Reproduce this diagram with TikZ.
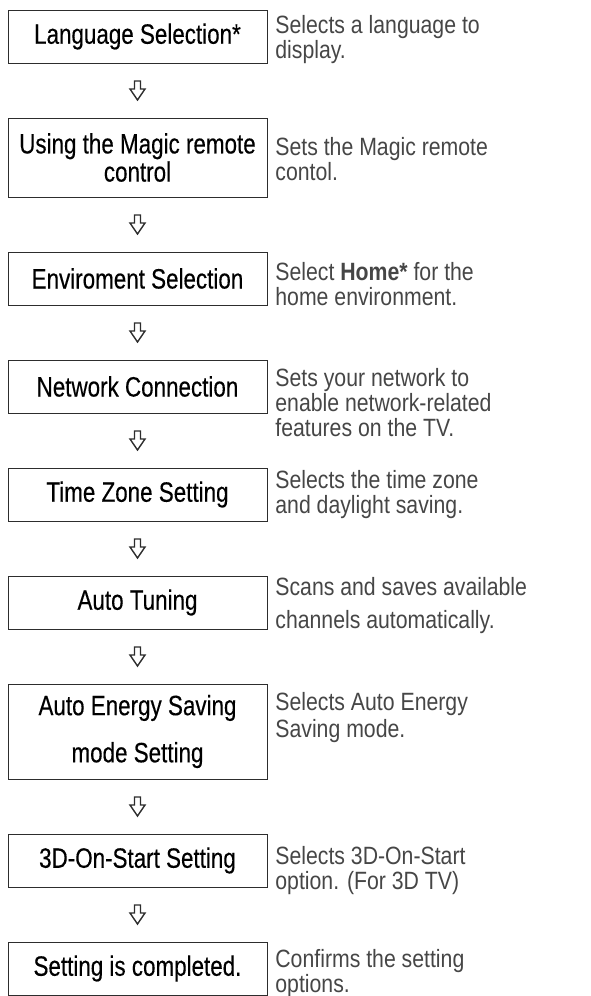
\documentclass[tikz,border=0pt]{standalone}
\usepackage{fontspec}
\setmainfont[FakeStretch=0.85]{Liberation Sans}
\newfontfamily\boxfont[FakeStretch=0.8,FakeBold=0.3]{Liberation Sans}
\usetikzlibrary{positioning,calc}
\definecolor{ink}{RGB}{45,45,45}
\definecolor{notegray}{RGB}{70,70,70}

\begin{document}
\begin{tikzpicture}[
  x=0.5pt,y=-0.5pt,
  node distance=27.5pt,
  stepbox/.style={rectangle,draw=ink,line width=0.5pt,outer sep=0pt,align=center,inner sep=0pt,minimum width=129.5pt,minimum height=26.5pt,font=\boxfont\fontsize{14}{12}\selectfont},
  note/.style={anchor=base west,align=left,inner sep=0pt,text=notegray,font=\fontsize{12.5}{12.5}\selectfont},
  downarrow/.pic={\draw[ink,fill=white,line width=0.7pt,line join=miter] (-3,-9.5) -- (3,-9.5) -- (3,-1.5) -- (7.5,-1.5) -- (0,9.5) -- (-7.5,-1.5) -- (-3,-1.5) -- cycle;}
]
\useasboundingbox (0,0) rectangle (590,996);

\node[stepbox] (lang) at (137.5,36.5) {Language Selection*};
\node[stepbox,below=of lang,minimum height=39.5pt] (remote) {Using the Magic remote\\control};
\node[stepbox,below=of remote] (env) {Enviroment Selection};
\node[stepbox,below=of env] (net) {Network Connection};
\node[stepbox,below=of net] (zone) {Time Zone Setting};
\node[stepbox,below=of zone] (tuning) {Auto Tuning};
\node[stepbox,below=of tuning,minimum height=47.5pt] (energy) {Auto Energy Saving\\[9.5pt]mode Setting};
\node[stepbox,below=of energy] (start3d) {3D-On-Start Setting};
\node[stepbox,below=of start3d] (done) {Setting is completed.};

\node[note] at ([shift={(8,48)}]lang.north east) {Selects a language to\\display.};
\node[note] at ([shift={(8,62)}]remote.north east) {Sets the Magic remote\\contol.};
\node[note] at ([shift={(8,53)}]env.north east) {Select \textbf{Home*} for the\\home environment.};
\node[note] at ([shift={(8,76)}]net.north east) {Sets your network to\\enable network-related\\features on the TV.};
\node[note] at ([shift={(8,45)}]zone.north east) {Selects the time zone\\and daylight saving.};
\node[note] at ([shift={(8,52)}]tuning.north east) {Scans and saves available\\[4pt]channels automatically.};
\node[note] at ([shift={(8,53)}]energy.north east) {Selects Auto Energy\\[1pt]Saving mode.};
\node[note] at ([shift={(8,55)}]start3d.north east) {Selects 3D-On-Start\\option. (For 3D TV)};
\node[note] at ([shift={(8,50)}]done.north east) {Confirms the setting\\options.};

\foreach \a/\b in {lang/remote,remote/env,env/net,net/zone,zone/tuning,tuning/energy,energy/start3d,start3d/done}{
  \path (\a) -- coordinate[midway] (mid) (\b);
  \pic at (mid) {downarrow};
}
\end{tikzpicture}
\end{document}
